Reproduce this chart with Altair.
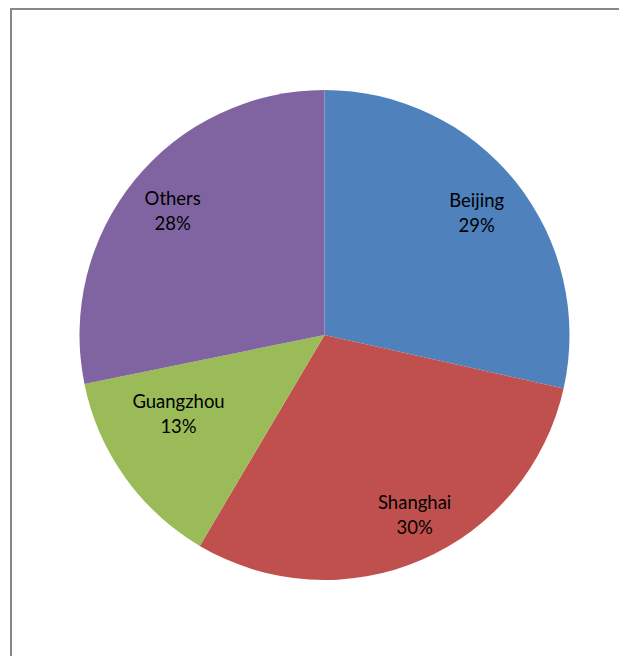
import altair as alt
import pandas as pd

# ---- data ----
categories = ["Beijing", "Shanghai", "Guangzhou", "Others"]
shares = [28.5, 30.0, 13.3, 28.2]          # slice sizes (percent)
pct_labels = ["29%", "30%", "13%", "28%"]  # data-label text as shown

# ---- styling / layout ----
colors = ["#4F81BD", "#C0504D", "#9BBB59", "#8064A2"]
label_radius = [195, 201, 166, 196]        # px from the pie centre
label_nudge = [0.0, -0.9, 1.95, 0.0]       # angular nudge, percentage points
W, H = 608, 648
CX, CY = 313.5, 327                        # pie centre inside the frame
R = 245
FRAME = "#878787"

df = pd.DataFrame({
    "idx": list(range(len(categories))),
    "cat": categories,
    "share": shares,
    "label": [c + "\n" + p for c, p in zip(categories, pct_labels)],
    "lr": label_radius,
    "nudge": label_nudge,
})

base = alt.Chart(df)

pie = base.mark_arc(radius=R).encode(
    theta=alt.Theta("share:Q", stack=True, scale=alt.Scale(domain=[0, 100])),
    color=alt.Color("cat:N", scale=alt.Scale(domain=categories, range=colors), legend=None),
    order=alt.Order("idx:Q"),
    x=alt.value(CX),
    y=alt.value(CY),
)

labels = base.transform_window(
    cum="sum(share)", sort=[alt.SortField("idx")]
).transform_calculate(
    mid="datum.cum - datum.share / 2 + datum.nudge"
).mark_text(
    font="Lato", fontSize=18.5, lineHeight=25, color="#000000",
    lineBreak="\n", align="center", baseline="middle", dy=-12,
).encode(
    theta=alt.Theta("mid:Q", stack=False, scale=alt.Scale(domain=[0, 100])),
    radius=alt.Radius("lr:Q", scale=None),
    text="label:N",
    x=alt.value(CX),
    y=alt.value(CY),
)

frame_left = alt.Chart(df).mark_rule(color=FRAME, strokeWidth=2).encode(
    x=alt.value(0), y=alt.value(0), y2=alt.value(H)
)
frame_top = alt.Chart(df).mark_rule(color=FRAME, strokeWidth=2).encode(
    x=alt.value(0), x2=alt.value(W), y=alt.value(1)
)

chart = alt.layer(pie, labels, frame_left, frame_top).resolve_scale(
    theta="independent"
).properties(
    width=W,
    height=H,
    padding={"left": 3, "top": 0, "right": 0, "bottom": 0},
    autosize=alt.AutoSizeParams(type="none"),
    background="#FFFFFF",
).configure_view(stroke=None)

chart.save("out.html", embed_options={"renderer": "svg", "actions": False})
